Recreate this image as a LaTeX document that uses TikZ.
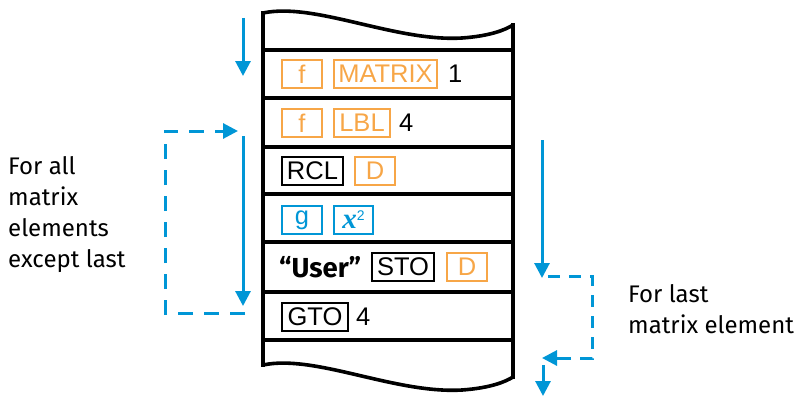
\documentclass[tikz,border=0pt]{standalone}
\usepackage{fontspec}
\setmainfont{Fira Sans}
\newfontfamily\keyfont{Liberation Sans}
\newfontfamily\serifkey{Liberation Serif}
\usetikzlibrary{arrows.meta}
\definecolor{hpblue}{RGB}{0,150,214}
\definecolor{keyorange}{RGB}{247,166,71}
\tikzset{
  x=1pt, y=-1pt,
  keybox/.style={draw, line width=1.1pt, minimum height=28pt, inner sep=0pt,
    font=\keyfont\fontsize{25.5}{25.5}\selectfont, anchor=center},
  okey/.style={keybox, draw=keyorange, text=keyorange},
  bkey/.style={keybox, draw=hpblue, text=hpblue},
  kkey/.style={keybox, draw=black, text=black},
  plaintxt/.style={font=\keyfont\fontsize{25.5}{25.5}\selectfont, anchor=west, inner sep=0pt},
  label/.style={font=\fontsize{24}{31}\selectfont, align=left, anchor=west, inner sep=0pt},
  flow/.style={hpblue, line width=3pt, -{Triangle[width=15pt,length=15pt]}},
  dflow/.style={hpblue, line width=3pt, dash pattern=on 15pt off 11pt},
}
\begin{document}
\begin{tikzpicture}
\useasboundingbox (0,0) rectangle (802,396);
% table body
\draw[line width=3.6pt] (263,13) .. controls (315,2) and (395,42) .. (462,38) .. controls (490,36) and (505,30) .. (513,25);
\draw[line width=3.6pt] (263,365) .. controls (315,354) and (395,394) .. (462,390) .. controls (490,388) and (505,382) .. (513,377);
\draw[line width=3.6pt] (263,11) -- (263,367);
\draw[line width=3.6pt] (513,23) -- (513,379);
\foreach \yy in {50,98,147,194,242,292,340}{
  \draw[line width=3.6pt] (263,\yy) -- (513,\yy);
}
% row 1
\node[okey, minimum width=40pt] (f1) at (302,74) {f};
\node[okey, minimum width=103pt] (matrix) at (385.5,74) {MATRIX};
\node[plaintxt] (one) at (448,74) {1};
% row 2
\node[okey, minimum width=40pt] (f2) at (302,123) {f};
\node[okey, minimum width=56pt] (lbl) at (362,123) {LBL};
\node[plaintxt] (four1) at (399,123) {4};
% row 3
\node[kkey, minimum width=61pt] (rcl) at (312.5,171) {RCL};
\node[okey, minimum width=40pt] (d1) at (375,171) {D};
% row 4
\node[bkey, minimum width=40pt] (g) at (302,220) {g};
\node[bkey, minimum width=39pt] (xsq) at (353.5,220) {{\serifkey\bfseries\itshape\fontsize{29}{29}\selectfont x}\raisebox{0.6ex}{\fontsize{14}{14}\selectfont 2}};
% row 5
\node[font=\bfseries\fontsize{27.5}{27.5}\selectfont, anchor=west, inner sep=0pt] (user) at (279,267) {“User”};
\node[kkey, minimum width=62pt] (sto) at (403,267) {STO};
\node[okey, minimum width=40pt] (d2) at (467,267) {D};
% row 6
\node[kkey, minimum width=66pt] (gto) at (315,317) {GTO};
\node[plaintxt] (four2) at (356,317) {4};
% labels
\node[label] (leftlbl) at (8,215) {For all\\matrix\\elements\\except last};
\node[label] (rightlbl) at (628,309) {For last\\matrix element};
% arrows
\coordinate (a0) at (243,18);
\coordinate (a1) at (243,76);
\draw[flow] (a0) -- (a1);
\coordinate (b0) at (243,136);
\coordinate (b1) at (243,306);
\draw[flow] (b0) -- (b1);
\coordinate (c0) at (245,313);
\coordinate (c1) at (165,313);
\coordinate (c2) at (165,131);
\coordinate (c3) at (222,131);
\coordinate (c4) at (238,131);
\draw[dflow] (c0) -- (c1) -- (c2) -- (c3);
\draw[flow] (c3) -- (c4);
\coordinate (d0) at (542,140);
\coordinate (d1b) at (542,278);
\draw[flow] (d0) -- (d1b);
\coordinate (e0) at (548,276);
\coordinate (e1) at (592,276);
\coordinate (e2) at (592,358);
\coordinate (e3) at (560,358);
\coordinate (e4) at (542,358);
\draw[dflow, dash pattern=on 12pt off 9pt] (e0) -- (e1) -- (e2) -- (e3);
\draw[flow] (e3) -- (e4);
\coordinate (f0) at (543,365);
\coordinate (f1b) at (543,396);
\draw[flow] (f0) -- (f1b);
\end{tikzpicture}
\end{document}
